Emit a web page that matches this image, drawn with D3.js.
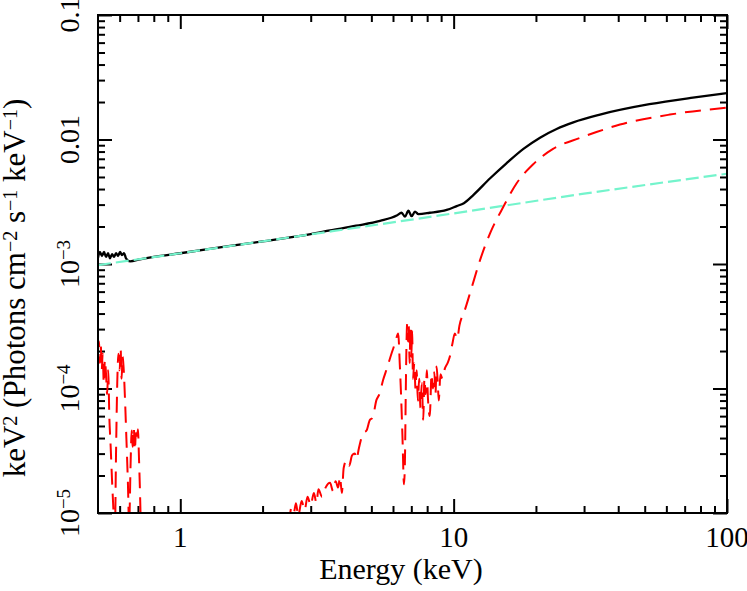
<!DOCTYPE html>
<html>
<head>
<meta charset="utf-8">
<script src="https://cdn.jsdelivr.net/npm/d3@7"></script>
<style>
  html, body { margin: 0; padding: 0; background: #fff; }
  svg { display: block; }
  svg text { font-family: 'Liberation Serif', 'DejaVu Serif', serif; }
</style>
</head>
<body>
<div id="chart"></div>
<script>
// ── data (keV, keV^2 photons cm^-2 s^-1 keV^-1) ──
const totalE = [0.5, 0.508, 0.517, 0.526, 0.535, 0.544, 0.553, 0.563, 0.572, 0.582, 0.592, 0.602,
  0.612, 0.623, 0.633, 0.655, 0.712, 0.8, 1.0, 1.5, 2.0, 3.0, 3.53, 4.4, 5.38, 6.19, 6.45, 6.64,
  6.83, 7.02, 7.22, 7.43, 8.18, 9.43, 10.26, 10.9, 11.8, 13.6, 15.6, 18.0, 20.7, 23.8, 27.4, 34.3,
  52, 75, 100];
const totalF = [1.12e-3, 1.25e-3, 1.16e-3, 1.25e-3, 1.14e-3, 1.22e-3, 1.11e-3, 1.2e-3, 1.14e-3,
  1.22e-3, 1.16e-3, 1.25e-3, 1.18e-3, 1.22e-3, 1.11e-3, 1.05e-3, 1.09e-3, 1.14e-3, 1.22e-3,
  1.39e-3, 1.52e-3, 1.74e-3, 1.86e-3, 2.03e-3, 2.22e-3, 2.45e-3, 2.58e-3, 2.40e-3, 2.68e-3,
  2.42e-3, 2.63e-3, 2.52e-3, 2.58e-3, 2.72e-3, 2.92e-3, 3.08e-3, 3.58e-3, 4.88e-3, 6.44e-3,
  8.41e-3, 1.035e-2, 1.216e-2, 1.374e-2, 1.585e-2, 1.92e-2, 2.17e-2, 2.36e-2];

const powE = [0.5, 1, 3, 10, 30, 100];
const powF = [9.8e-4, 1.22e-3, 1.73e-3, 2.55e-3, 3.67e-3, 5.31e-3];

// reflection component, soft part (drops below the axis near 0.72 keV)
const reflLoE = [0.5, 0.504, 0.508, 0.512, 0.516, 0.52, 0.525, 0.53, 0.535, 0.54, 0.545, 0.55,
  0.556, 0.563, 0.57, 0.576, 0.582, 0.588, 0.594, 0.6, 0.605, 0.61, 0.615, 0.62, 0.628, 0.635,
  0.643, 0.65, 0.658, 0.664, 0.67, 0.676, 0.682, 0.688, 0.694, 0.7, 0.706, 0.712, 0.718];
const reflLoF = [2.0e-4, 2.4e-4, 1.6e-4, 2.2e-4, 1.4e-4, 1.9e-4, 1.1e-4, 1.7e-4, 1.3e-4, 9e-5,
  1.4e-4, 6e-5, 3.5e-5, 1.8e-5, 1.0e-5, 6e-6, 3e-5, 1.1e-4, 1.9e-4, 1.4e-4, 2.1e-4, 1.2e-4,
  1.8e-4, 1.5e-4, 8e-5, 4e-5, 1.8e-5, 8e-6, 2.5e-5, 4.6e-5, 3.4e-5, 4.8e-5, 3.2e-5, 4.4e-5,
  3.8e-5, 4.7e-5, 2.8e-5, 1.5e-5, 7e-6];

// reflection component, hard part (from 2.5 keV up)
const reflHiE = [2.5, 2.55, 2.6, 2.65, 2.7, 2.78, 2.85, 2.92, 3.0, 3.08, 3.15, 3.2, 3.3, 3.4,
  3.53, 3.62, 3.7, 3.78, 3.84, 3.9, 3.96, 4.06, 4.15, 4.25, 4.35, 4.41, 4.5, 4.67, 4.8, 4.94,
  5.05, 5.22, 5.35, 5.52, 5.7, 5.93, 6.1, 6.27, 6.35, 6.42, 6.5, 6.58, 6.63, 6.68, 6.72, 6.76,
  6.8, 6.85, 6.9, 6.95, 7.0, 7.05, 7.1, 7.18, 7.25, 7.32, 7.4, 7.48, 7.56, 7.65, 7.74, 7.82,
  7.9, 7.98, 8.05, 8.18, 8.3, 8.4, 8.5, 8.58, 8.66, 8.75, 8.82, 8.95, 9.1, 9.29, 9.5, 9.68,
  9.9, 10.1, 10.3, 10.5, 11.0, 11.6, 12.5, 13.6, 15.2, 17.0, 19.5, 23.1, 29.0, 33.3, 40.6,
  61.8, 100];
const reflHiF = [8e-6, 1.1e-5, 1.0e-5, 1.2e-5, 9.5e-6, 1.25e-5, 1.05e-5, 1.35e-5, 1.15e-5,
  1.45e-5, 1.2e-5, 1.55e-5, 1.35e-5, 1.6e-5, 1.75e-5, 1.5e-5, 1.8e-5, 1.6e-5, 1.95e-5, 1.45e-5,
  2.3e-5, 2.65e-5, 2.4e-5, 2.9e-5, 3.0e-5, 2.7e-5, 3.3e-5, 4.4e-5, 4.6e-5, 5.6e-5, 5.8e-5,
  8.1e-5, 9e-5, 1.17e-4, 1.45e-4, 1.92e-4, 2.3e-4, 2.77e-4, 1.6e-4, 9e-5, 4e-5, 1.7e-5, 2.4e-5,
  9e-5, 2.2e-4, 3.3e-4, 2.4e-4, 3.2e-4, 1.6e-4, 3.1e-4, 1.8e-4, 2.9e-4, 1.2e-4, 1.6e-4, 1.0e-4,
  1.4e-4, 8e-5, 1.2e-4, 7e-5, 1.1e-4, 5.6e-5, 1.2e-4, 9e-5, 1.4e-4, 8.5e-5, 6e-5, 1.3e-4,
  1.0e-4, 1.35e-4, 9e-5, 1.5e-4, 1.1e-4, 8e-5, 1.3e-4, 1.2e-4, 1.45e-4, 1.6e-4, 1.8e-4, 2.3e-4,
  2.77e-4, 2.5e-4, 3.2e-4, 4.3e-4, 6.3e-4, 1.08e-3, 1.77e-3, 2.88e-3, 4.45e-3, 6.3e-3,
  8.4e-3, 1.03e-2, 1.148e-2, 1.318e-2, 1.585e-2, 1.80e-2];

// ── axes ──
const xTicks  = [1, 10, 100];
const xLabels = ['1', '10', '100'];
const yTicks  = [1e-5, 1e-4, 1e-3, 0.01, 0.1];
const yLabels = [['10', '−5'], ['10', '−4'], ['10', '−3'], ['0.01', ''], ['0.1', '']];

const FONT = 'Liberation Serif, DejaVu Serif, serif';
const W = 747, H = 591;
const L = 98, R = 727, T = 15, B = 513;

const svg = d3.select('#chart').append('svg')
  .attr('width', W).attr('height', H);

const x = d3.scaleLog().domain([0.5, 100]).range([L, R]);
const y = d3.scaleLog().domain([1e-5, 0.1]).range([B, T]);

svg.append('defs').append('clipPath').attr('id', 'plotClip')
  .append('rect').attr('x', L).attr('y', T).attr('width', R - L).attr('height', B - T);

// minor tick positions (2..9 in every decade)
const xMinor = [], yMinor = [];
[0.1, 1, 10].forEach(d => { for (let k = 2; k <= 9; k++) { const v = d * k; if (v > 0.5 && v < 100) xMinor.push(v); } });
[1e-5, 1e-4, 1e-3, 1e-2].forEach(d => { for (let k = 2; k <= 9; k++) yMinor.push(d * k); });

function ticks(axisGen, scale, vals, len, tx, ty) {
  const g = svg.append('g').attr('transform', `translate(${tx},${ty})`)
    .call(axisGen(scale).tickValues(vals).tickSize(len).tickSizeOuter(0).tickFormat(''));
  g.select('.domain').remove();
  g.selectAll('line').attr('stroke', '#000').attr('stroke-width', 2);
}
// inward ticks on all four sides
ticks(d3.axisBottom, x, xTicks, -14, 0, B);
ticks(d3.axisBottom, x, xMinor, -7, 0, B);
ticks(d3.axisTop, x, xTicks, -14, 0, T);
ticks(d3.axisTop, x, xMinor, -7, 0, T);
ticks(d3.axisLeft, y, yTicks, -14, L, 0);
ticks(d3.axisLeft, y, yMinor, -7, L, 0);
ticks(d3.axisRight, y, yTicks, -14, R, 0);
ticks(d3.axisRight, y, yMinor, -7, R, 0);

// ── curves ──
const line = (E, F) => d3.line()
  .x(i => x(E[i])).y(i => y(F[i]))
  .curve(d3.curveMonotoneX)(d3.range(E.length));

const gPlot = svg.append('g').attr('clip-path', 'url(#plotClip)');

gPlot.append('path').attr('d', line(totalE, totalF))
  .attr('fill', 'none').attr('stroke', '#000').attr('stroke-width', 2.3);

gPlot.append('path').attr('d', line(powE, powF))
  .attr('fill', 'none').attr('stroke', '#74f4cc').attr('stroke-width', 2.2)
  .attr('stroke-dasharray', '13,5');

[[reflLoE, reflLoF], [reflHiE, reflHiF]].forEach(([E, F]) => {
  gPlot.append('path').attr('d', line(E, F))
    .attr('fill', 'none').attr('stroke', '#ff0000').attr('stroke-width', 2)
    .attr('stroke-dasharray', '16,9');
});

// frame
svg.append('rect').attr('x', L).attr('y', T).attr('width', R - L).attr('height', B - T)
  .attr('fill', 'none').attr('stroke', '#000').attr('stroke-width', 2);

// ── labels ──
svg.selectAll('text.xl').data(xTicks).enter().append('text')
  .attr('class', 'xl')
  .attr('x', d => x(d)).attr('y', 547)
  .attr('font-family', FONT)
  .attr('text-anchor', 'middle').attr('font-size', 29)
  .text((d, i) => xLabels[i]);

yTicks.forEach((v, i) => {
  const t = svg.append('text')
    .attr('transform', `translate(79,${y(v)}) rotate(-90)`)
    .attr('font-family', FONT)
    .attr('text-anchor', 'middle').attr('font-size', 28);
  t.append('tspan').text(yLabels[i][0]);
  if (yLabels[i][1]) t.append('tspan').attr('dy', -9).attr('font-size', 19).text(yLabels[i][1]);
});

svg.append('text')
  .attr('x', 401).attr('y', 579)
  .attr('font-family', FONT)
  .attr('text-anchor', 'middle').attr('font-size', 30)
  .text('Energy (keV)');

const yt = svg.append('text')
  .attr('transform', 'translate(25,288) rotate(-90)')
  .attr('font-family', FONT)
  .attr('text-anchor', 'middle').attr('font-size', 31);
[['keV', 0], ['2', 1], [' (Photons cm', 0], ['−2', 1], [' s', 0], ['−1', 1], [' keV', 0], ['−1', 1], [')', 0]]
  .forEach(([s, sup], i, arr) => {
    const prevSup = i > 0 && arr[i - 1][1];
    const ts = yt.append('tspan').text(s);
    if (sup) ts.attr('font-size', 20).attr('dy', -8);
    else if (prevSup) ts.attr('dy', 8);
  });
</script>
</body>
</html>
